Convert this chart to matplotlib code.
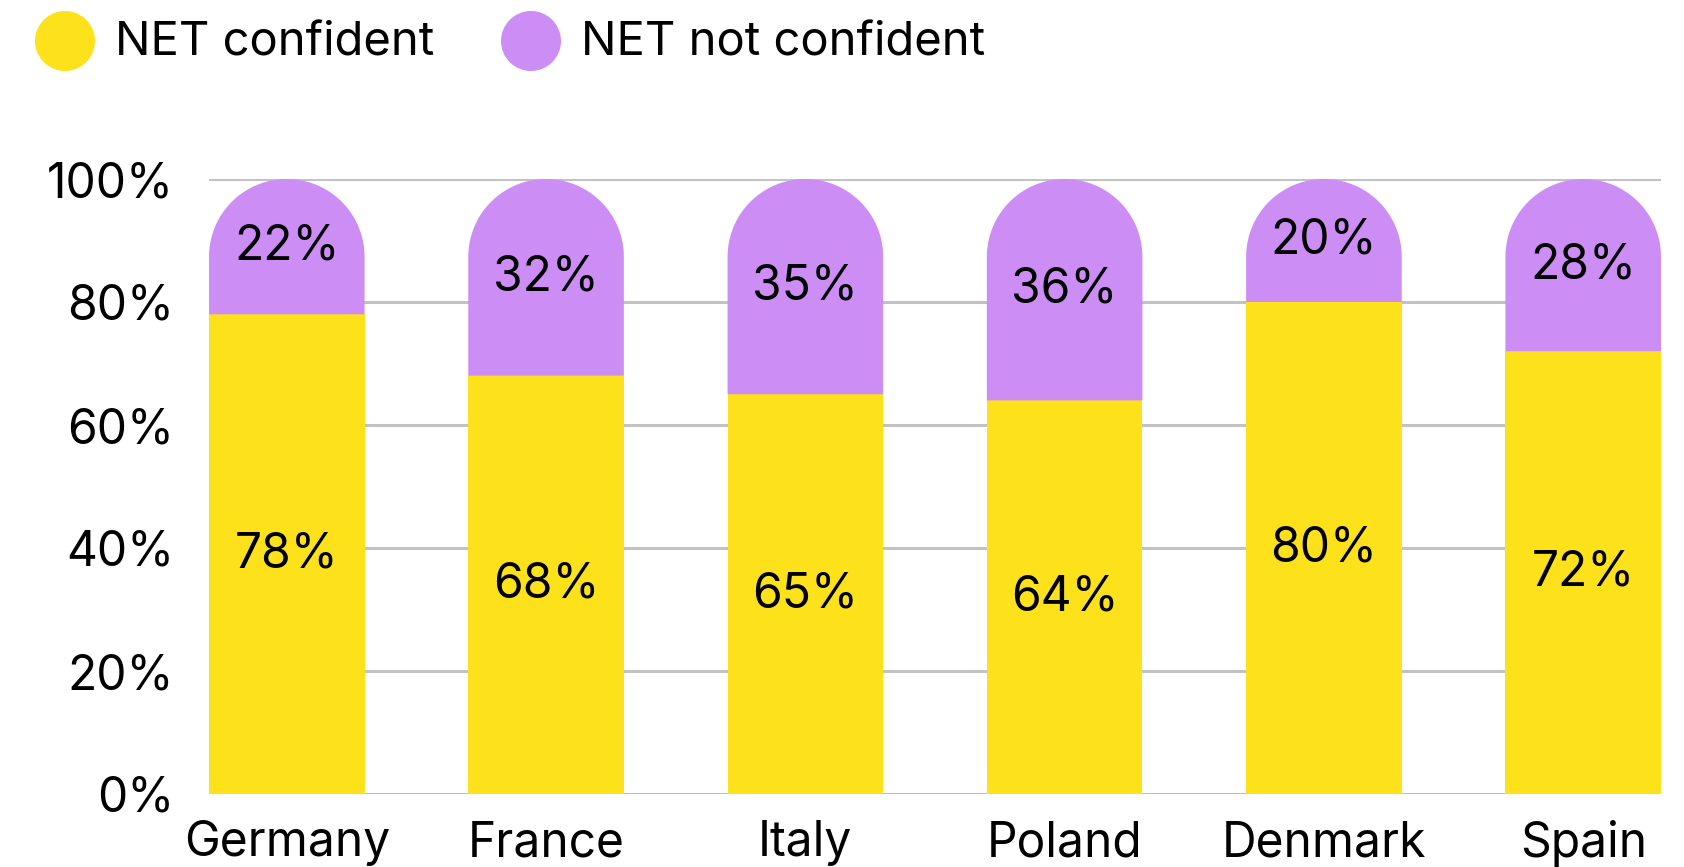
import matplotlib
matplotlib.use("Agg")
import matplotlib.pyplot as plt
import numpy as np
from matplotlib.path import Path
from matplotlib.patches import PathPatch, Ellipse

countries = ["Germany", "France", "Italy", "Poland", "Denmark", "Spain"]
net_confident = [78, 68, 65, 64, 80, 72]
net_not_confident = [22, 32, 35, 36, 20, 28]
y_ticks = [0, 20, 40, 60, 80, 100]
y_tick_labels = ["0%", "20%", "40%", "60%", "80%", "100%"]
series_names = ["NET confident", "NET not confident"]

YELLOW = "#FDE21B"
PURPLE = "#CC8DF5"
GRID = "#C2C2C2"
FONT = "Inter"
FS = 34.5
WEIGHT = "normal"

plt.rcParams["font.family"] = [FONT, "DejaVu Sans"]
plt.rcParams["font.weight"] = WEIGHT

W, H, DPI = 1684, 867, 100
fig = plt.figure(figsize=(W / DPI, H / DPI), dpi=DPI)
ax_left, ax_right, ax_top, ax_bottom = 209, 1661, 179, 794
ax = fig.add_axes([ax_left / W, (H - ax_bottom) / H,
                   (ax_right - ax_left) / W, (ax_bottom - ax_top) / H])

bar_w = 0.6
x = np.arange(len(countries))
ax.set_xlim(-bar_w / 2, len(countries) - 1 + bar_w / 2)
ax.set_ylim(0, 100)

# gridlines
for t in y_ticks[1:]:
    ax.axhline(t, color=GRID, lw=2.2, zorder=0)
ax.axhline(0, color="#B0B0B0", lw=1.2, zorder=0)

# yellow segments
ax.bar(x, net_confident, width=bar_w, color=YELLOW, zorder=2)

# purple segments with semicircular top
fig.canvas.draw()
px_per_x = ax.transData.transform((1, 0))[0] - ax.transData.transform((0, 0))[0]
px_per_y = ax.transData.transform((0, 1))[1] - ax.transData.transform((0, 0))[1]
rx = bar_w / 2
ry = rx * px_per_x / px_per_y
theta = np.linspace(0, np.pi, 60)
for xi, base, h in zip(x, net_confident, net_not_confident):
    top = base + h
    x0, x1 = xi - bar_w / 2, xi + bar_w / 2
    verts = [(x0, base), (x1, base), (x1, top - ry)]
    verts += [(xi + rx * np.cos(t), top - ry + ry * np.sin(t)) for t in theta]
    verts += [(x0, base)]
    codes = [Path.MOVETO] + [Path.LINETO] * (len(verts) - 2) + [Path.CLOSEPOLY]
    ax.add_patch(PathPatch(Path(verts, codes), facecolor=PURPLE, edgecolor="none", zorder=2))

# value labels
for xi, c, n in zip(x, net_confident, net_not_confident):
    ax.text(xi, c / 2, f"{c}%", ha="center", va="center", fontsize=FS, zorder=3)
    ax.text(xi, c + n / 2, f"{n}%", ha="center", va="center", fontsize=FS, zorder=3)

ax.set_yticks(y_ticks)
ax.set_yticklabels(y_tick_labels, fontsize=FS)
ax.set_xticks(x)
ax.set_xticklabels(countries, fontsize=FS)
ax.tick_params(axis="y", length=0, pad=25)
ax.tick_params(axis="x", length=0, pad=19)
for s in ax.spines.values():
    s.set_visible(False)

# legend
legend_items = [(65, 115, YELLOW, series_names[0]), (531, 581, PURPLE, series_names[1])]
for cx, tx, col, name in legend_items:
    fig.patches.append(Ellipse((cx / W, 1 - 41 / H), 60 / W, 60 / H,
                               transform=fig.transFigure, facecolor=col, edgecolor="none"))
    fig.text(tx / W, 1 - 43 / H, name, fontsize=34, va="center", ha="left")

fig.savefig("out.png", dpi=DPI)
